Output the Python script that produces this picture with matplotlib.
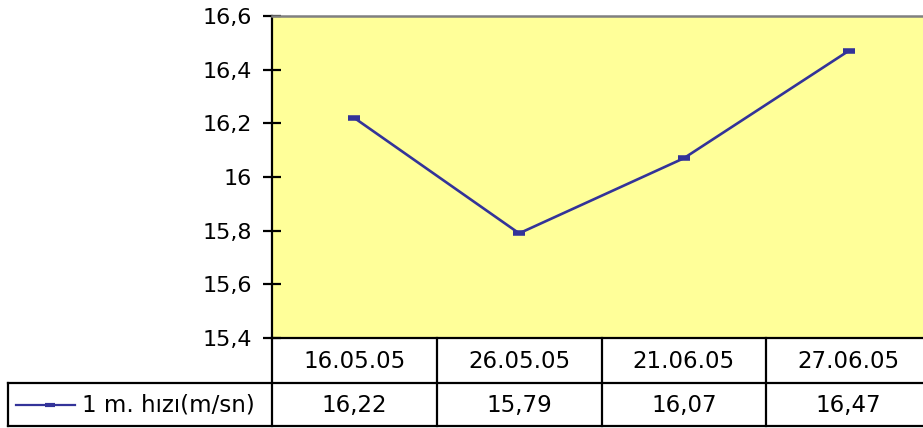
import matplotlib.pyplot as plt
from matplotlib.lines import Line2D

dates = ["16.05.05", "26.05.05", "21.06.05", "27.06.05"]
speed = [16.22, 15.79, 16.07, 16.47]
series_name = "1 m. hızı(m/sn)"
y_ticks = [15.4, 15.6, 15.8, 16.0, 16.2, 16.4, 16.6]

plt.rcParams['font.family'] = ['DejaVu Sans']

W, H = 923, 428
fig = plt.figure(figsize=(W / 100, H / 100), dpi=100)

# plot area in pixels (right edge runs past the crop)
left, right, top, bottom = 272, 931, 16, 338
ax = fig.add_axes([left / W, 1 - bottom / H, (right - left) / W, (bottom - top) / H])
ax.set_facecolor("#FFFF99")

x = list(range(len(dates)))
ax.plot(x, speed, color="#333399", lw=1.9, marker="_", ms=9, mew=4, zorder=3)

ax.set_xlim(-0.5, len(dates) - 0.5)
ax.set_ylim(15.4, 16.6)
ax.set_yticks(y_ticks)
ax.set_yticklabels([f"{v:g}".replace(".", ",") for v in y_ticks], fontsize=16)
ax.tick_params(axis="y", direction="inout", length=13, width=1.6, pad=8)
ax.set_xticks([])

ax.spines["right"].set_visible(False)
ax.spines["top"].set_color("#808080")
ax.spines["top"].set_linewidth(1.8)
ax.spines["left"].set_linewidth(1.6)
ax.spines["bottom"].set_linewidth(1.6)


def px(xp, yp):
    return xp / W, 1 - yp / H


def seg(x0, y0, x1, y1, **kw):
    a, b = px(x0, y0), px(x1, y1)
    kw.setdefault("color", "black")
    kw.setdefault("lw", 1.6)
    fig.add_artist(Line2D([a[0], b[0]], [a[1], b[1]], **kw))


# data table under the chart
row1, row2, row3 = 338, 383, 426
col_w = (right - left) / len(dates)
seg(8, row2, W + 10, row2)
seg(8, row3, W + 10, row3)
seg(8, row2, 8, row3)
for i in range(len(dates) + 1):
    seg(left + i * col_w, row1, left + i * col_w, row3)

for i, (d, v) in enumerate(zip(dates, speed)):
    cx = left + (i + 0.5) * col_w
    fig.text(*px(cx, (row1 + row2) / 2 + 1), d, ha="center", va="center", fontsize=16.5)
    fig.text(*px(cx, (row2 + row3) / 2 + 1), f"{v:.2f}".replace(".", ","),
             ha="center", va="center", fontsize=16.5)

# legend key in the table
ly = (row2 + row3) / 2
seg(16, ly, 75, ly, color="#333399", lw=1.6)
m = px(50, ly)
fig.add_artist(Line2D([m[0]], [m[1]], color="#333399", marker="_", ms=7, mew=3))
fig.text(*px(82, ly + 1), series_name, ha="left", va="center", fontsize=16.5)

fig.savefig("out.png", dpi=100)
